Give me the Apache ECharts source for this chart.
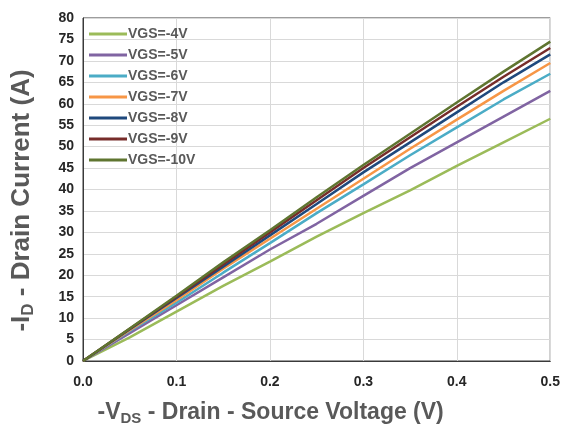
<!DOCTYPE html>
<html>
<head>
<meta charset="utf-8">
<script src="https://cdn.jsdelivr.net/npm/echarts@6/dist/echarts.min.js"></script>
<style>
  html, body { margin: 0; padding: 0; background: #fff; }
  #chart { width: 563px; height: 431px; }
</style>
</head>
<body>
<div id="chart"></div>
<script>
// -VDS sweep points (V)
const vds = [0, 0.05, 0.1, 0.15, 0.2, 0.25, 0.3, 0.35, 0.4, 0.45, 0.5];

const names = ["VGS=-4V", "VGS=-5V", "VGS=-6V", "VGS=-7V", "VGS=-8V", "VGS=-9V", "VGS=-10V"];

// -ID (A) per gate voltage
const id4 = [0, 5.5, 11.5, 17.5, 23.2, 29, 34.5, 39.8, 45.5, 51, 56.5];
const id5 = [0, 6.5, 13, 19.5, 26, 32, 38.5, 45, 51, 57, 63];
const id6 = [0, 7, 13.6, 20.6, 27.5, 34.5, 41.2, 48, 54.5, 61, 67];
const id7 = [0, 7.2, 14.2, 21.5, 28.5, 35.5, 42.5, 49.5, 56.3, 63, 69.5];
const id8 = [0, 7.4, 14.7, 22, 29.3, 36.6, 44, 51, 58, 65, 71.5];
const id9 = [0, 7.5, 15, 22.5, 30, 37.5, 45, 52.2, 59.3, 66.3, 73];
const id10 = [0, 7.6, 15.2, 23, 30.5, 38.2, 45.7, 53, 60.3, 67.5, 74.5];

const colors = ["#9BBB59", "#8064A2", "#4BACC6", "#F79646", "#1F497D", "#772C2A", "#5F7530"];

const allY = [id4, id5, id6, id7, id8, id9, id10];
const font = "Liberation Sans";

const chart = echarts.init(document.getElementById("chart"));
chart.setOption({
  color: colors,
  animation: false,
  grid: {
    left: 83, right: 10, top: 18, bottom: 69,
    show: true, borderColor: "#3a3a3a", borderWidth: 1
  },
  legend: {
    orient: "vertical",
    left: 84, top: 22,
    itemWidth: 38, itemHeight: 3, itemGap: 7,
    icon: "rect",
    textStyle: { fontFamily: font, fontSize: 14, fontWeight: "bold", color: "#595959", padding: [0, 0, 0, -4] },
    data: names
  },
  xAxis: {
    type: "value",
    min: 0, max: 0.5, interval: 0.1,
    axisLine: { show: true, lineStyle: { color: "#3a3a3a" } },
    axisTick: { show: false },
    splitLine: { show: true, lineStyle: { color: "#d9d9d9", width: 1 } },
    axisLabel: {
      margin: 14, fontFamily: font, fontSize: 14, fontWeight: "bold", color: "#262626",
      formatter: (v) => v.toFixed(1)
    },
    name: "{a|-V}{s|DS}{a| - Drain - Source Voltage (V)}",
    nameLocation: "middle",
    nameGap: 38,
    nameTextStyle: {
      padding: [0, 92, 0, 0],
      rich: {
        a: { fontFamily: font, fontSize: 23, fontWeight: "bold", color: "#595959" },
        s: { fontFamily: font, fontSize: 15, fontWeight: "bold", color: "#595959", verticalAlign: "bottom", padding: [12, 0, 0, 0] }
      }
    }
  },
  yAxis: {
    type: "value",
    min: 0, max: 80, interval: 5,
    axisLine: { show: true, lineStyle: { color: "#3a3a3a" } },
    axisTick: { show: false },
    splitLine: { show: true, lineStyle: { color: "#d9d9d9", width: 1 } },
    axisLabel: { margin: 9, fontFamily: font, fontSize: 14, fontWeight: "bold", color: "#262626" },
    name: "{a|-I}{s|D}{a| - Drain Current (A)}",
    nameLocation: "middle",
    nameGap: 46,
    nameTextStyle: {
      padding: [0, 22, 0, 0],
      rich: {
        a: { fontFamily: font, fontSize: 26, fontWeight: "bold", color: "#595959" },
        s: { fontFamily: font, fontSize: 17, fontWeight: "bold", color: "#595959", verticalAlign: "bottom", padding: [14, 0, 0, 0] }
      }
    }
  },
  series: names.map((n, k) => ({
    name: n,
    type: "line",
    showSymbol: false,
    symbol: "none",
    lineStyle: { width: 2.5 },
    data: vds.map((x, i) => [x, allY[k][i]])
  }))
});
</script>
</body>
</html>
